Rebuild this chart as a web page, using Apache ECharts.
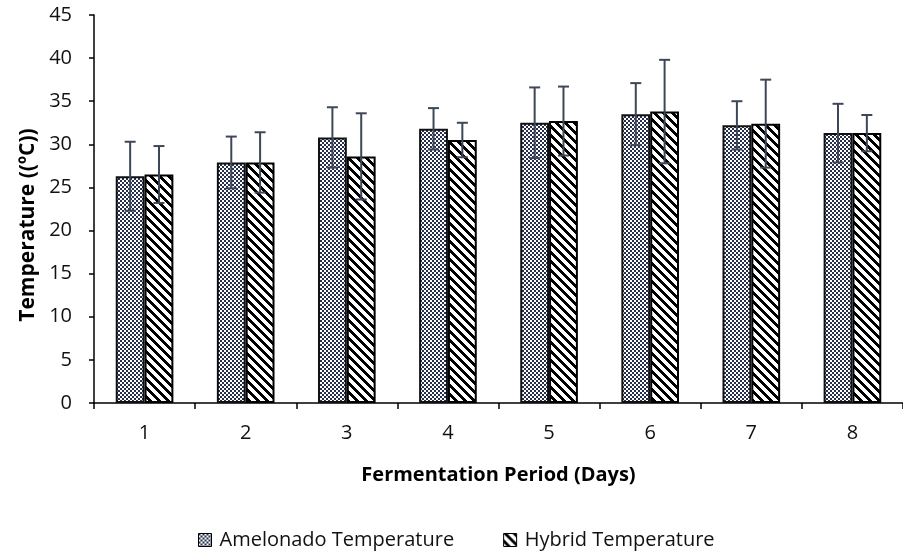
<!DOCTYPE html>
<html>
<head>
<meta charset="utf-8">
<script src="https://cdn.jsdelivr.net/npm/echarts@6/dist/echarts.min.js"></script>
<style>
  html, body { margin: 0; padding: 0; background: #fff; }
  #chart { width: 903px; height: 555px; }
</style>
</head>
<body>
<div id="chart"></div>
<script>
// Fermentation temperature by day, two cocoa varieties (mean ± SD)
const days = ['1', '2', '3', '4', '5', '6', '7', '8'];
const amelonadoTemp = [26.3, 27.9, 30.8, 31.8, 32.5, 33.5, 32.2, 31.3];
const amelonadoErr  = [4.0, 3.0, 3.5, 2.4, 4.1, 3.6, 2.8, 3.4];
const hybridTemp    = [26.5, 27.9, 28.6, 30.5, 32.7, 33.8, 32.4, 31.3];
const hybridErr     = [3.3, 3.5, 5.0, 2.0, 4.0, 6.0, 5.1, 2.1];
const yTicks = { min: 0, max: 45, step: 5 };

const FONT = '"Open Sans", "Noto Sans", sans-serif';

// Fine checker fill
function checkerPattern() {
  const c = document.createElement('canvas');
  c.width = 8; c.height = 8;
  const g = c.getContext('2d');
  g.fillStyle = '#ffffff';
  g.fillRect(0, 0, 8, 8);
  g.fillStyle = '#27314e';
  for (let y = 0; y < 8; y += 2) {
    for (let x = 0; x < 8; x += 2) {
      if (((x + y) / 2) % 2 === 0) g.fillRect(x, y, 2, 2);
    }
  }
  return c;
}

// Wide downward diagonal stripes
function stripePattern() {
  const n = 9;
  const c = document.createElement('canvas');
  c.width = n; c.height = n;
  const g = c.getContext('2d');
  g.fillStyle = '#ffffff';
  g.fillRect(0, 0, n, n);
  g.fillStyle = '#000000';
  for (let y = 0; y < n; y++) {
    for (let x = 0; x < n; x++) {
      if ((((x - y) % n) + n) % n < 4) g.fillRect(x, y, 1, 1);
    }
  }
  return c;
}

const amelonadoFill = { image: checkerPattern(), repeat: 'repeat' };
const hybridFill = { image: stripePattern(), repeat: 'repeat' };

const BAR_W_RATIO = 0.285;

function errorSeries(name, values, errs, side) {
  return {
    type: 'custom',
    name: name + ' SD',
    z: 10,
    silent: true,
    data: values.map((v, i) => [i, v, errs[i]]),
    renderItem: function (params, api) {
      const idx = api.value(0);
      const v = api.value(1);
      const e = api.value(2);
      const band = api.size([1, 0])[0];
      const barW = band * BAR_W_RATIO;
      const hi = api.coord([idx, v + e]);
      const lo = api.coord([idx, v - e]);
      const x = hi[0] + side * barW / 2;
      const cap = 5.5;
      const style = { stroke: '#3e4758', lineWidth: 2, fill: null };
      return {
        type: 'group',
        children: [
          { type: 'line', shape: { x1: x, y1: hi[1], x2: x, y2: lo[1] }, style: style },
          { type: 'line', shape: { x1: x - cap, y1: hi[1], x2: x + cap, y2: hi[1] }, style: style },
          { type: 'line', shape: { x1: x - cap, y1: lo[1], x2: x + cap, y2: lo[1] }, style: style }
        ]
      };
    }
  };
}

const chart = echarts.init(document.getElementById('chart'), null, { renderer: 'canvas' });

chart.setOption({
  animation: false,
  backgroundColor: '#ffffff',
  textStyle: { fontFamily: FONT },
  grid: { left: 94, top: 15, width: 814, height: 388 },
  graphic: [
    {
      // vertical axis title
      type: 'text',
      x: 28,
      y: 225,
      rotation: Math.PI / 2,
      style: {
        text: 'Temperature ((ºC))',
        font: 'bold 21px ' + FONT,
        fill: '#000',
        align: 'center',
        verticalAlign: 'middle'
      }
    }
  ],
  legend: {
    bottom: 0,
    left: 193,
    icon: 'rect',
    itemWidth: 13,
    itemHeight: 13,
    itemGap: 49,
    data: ['Amelonado Temperature', 'Hybrid Temperature'],
    textStyle: { fontFamily: FONT, fontSize: 20, color: '#111', padding: [0, 0, 0, 3] },
    itemStyle: { borderColor: '#000', borderWidth: 1 }
  },
  xAxis: {
    type: 'category',
    data: days,
    name: 'Fermentation Period (Days)',
    nameLocation: 'middle',
    nameGap: 62,
    nameTextStyle: { fontFamily: FONT, fontWeight: 'bold', fontSize: 20, color: '#000' },
    axisLine: { lineStyle: { color: '#000', width: 1.5 } },
    axisTick: { show: true, length: 6, lineStyle: { color: '#000', width: 1.5 } },
    axisLabel: { margin: 20, fontFamily: FONT, fontSize: 20, color: '#111' },
    splitLine: { show: false }
  },
  yAxis: {
    type: 'value',
    min: yTicks.min,
    max: yTicks.max,
    interval: yTicks.step,
    axisLine: { show: true, lineStyle: { color: '#000', width: 1.5 } },
    axisTick: { show: true, length: 5, lineStyle: { color: '#000', width: 1.5 } },
    axisLabel: { margin: 22, fontFamily: FONT, fontSize: 20, color: '#111' },
    splitLine: { show: false }
  },
  series: [
    {
      name: 'Amelonado Temperature',
      type: 'bar',
      data: amelonadoTemp,
      barWidth: (BAR_W_RATIO * 100) + '%',
      barGap: '0%',
      itemStyle: { color: amelonadoFill, borderColor: '#111', borderWidth: 2 }
    },
    {
      name: 'Hybrid Temperature',
      type: 'bar',
      data: hybridTemp,
      barWidth: (BAR_W_RATIO * 100) + '%',
      barGap: '0%',
      itemStyle: { color: hybridFill, borderColor: '#000', borderWidth: 2 }
    },
    errorSeries('Amelonado Temperature', amelonadoTemp, amelonadoErr, -1),
    errorSeries('Hybrid Temperature', hybridTemp, hybridErr, 1)
  ]
});
</script>
</body>
</html>
